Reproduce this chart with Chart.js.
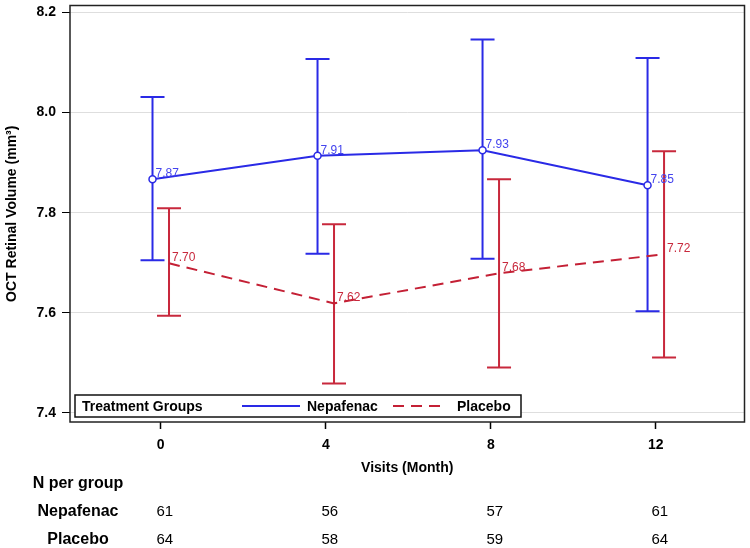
<!DOCTYPE html>
<html>
<head>
<meta charset="utf-8">
<script src="https://cdn.jsdelivr.net/npm/chart.js@4"></script>
<style>
  html, body { margin: 0; padding: 0; background: #fff; }
  #wrap { width: 750px; height: 548px; }
</style>
</head>
<body>
<div id="wrap"><canvas id="c" width="750" height="548"></canvas></div>
<script>
// data
const visits = [0, 4, 8, 12];
const nepMean  = [7.867, 7.914, 7.925, 7.855];
const nepLower = [7.705, 7.718, 7.708, 7.603];
const nepUpper = [8.031, 8.107, 8.146, 8.109];
const plaMean  = [7.699, 7.619, 7.679, 7.717];
const plaLower = [7.594, 7.459, 7.491, 7.511];
const plaUpper = [7.809, 7.777, 7.867, 7.923];
const nepLabels = ['7.87', '7.91', '7.93', '7.85'];
const plaLabels = ['7.70', '7.62', '7.68', '7.72'];
const nepN = [61, 56, 57, 61];
const plaN = [64, 58, 59, 64];
const yTicks = [7.4, 7.6, 7.8, 8.0, 8.2];
const xTicks = [0, 4, 8, 12];

const FONT = "'Liberation Sans', Arial, sans-serif";
const BLUE = '#2a2ae6';
const RED = '#c42035';
const nepOff = -0.2, plaOff = 0.2;

let toXY = (means, off) => visits.map((v, i) => ({ x: v + off, y: means[i] }));

// error bars, drawn with the chart's own scales
const errorBars = {
    id: 'errorBars',
    beforeDatasetsDraw(chart) {
        const ctx = chart.ctx, xs = chart.scales.x, ys = chart.scales.y;
        let groups = [
            { off: nepOff, lo: nepLower, hi: nepUpper, color: BLUE },
            { off: plaOff, lo: plaLower, hi: plaUpper, color: '#c8283c' }
        ];
        ctx.save();
        ctx.lineWidth = 2;
        for (let g of groups) {
            ctx.strokeStyle = g.color;
            visits.forEach((v, i) => {
                let px = xs.getPixelForValue(v + g.off);
                let y1 = ys.getPixelForValue(g.lo[i]);
                let y2 = ys.getPixelForValue(g.hi[i]);
                ctx.beginPath();
                ctx.moveTo(px, y1); ctx.lineTo(px, y2);
                ctx.moveTo(px - 12, y1); ctx.lineTo(px + 12, y1);
                ctx.moveTo(px - 12, y2); ctx.lineTo(px + 12, y2);
                ctx.stroke();
            });
        }
        ctx.restore();
    }
};

// point labels, frame, legend, x title and the N table
const extras = {
    id: 'extras',
    afterDatasetsDraw(chart) {
        const ctx = chart.ctx, xs = chart.scales.x, ys = chart.scales.y;
        const a = chart.chartArea;
        ctx.save();
        ctx.font = '12px ' + FONT;
        ctx.textAlign = 'left';
        ctx.textBaseline = 'alphabetic';
        visits.forEach((v, i) => {
            ctx.fillStyle = '#4444ee';
            ctx.fillText(nepLabels[i], xs.getPixelForValue(v + nepOff) + 3, ys.getPixelForValue(nepMean[i]) - 2);
            ctx.fillStyle = '#c8283c';
            ctx.fillText(plaLabels[i], xs.getPixelForValue(v + plaOff) + 3, ys.getPixelForValue(plaMean[i]) - 2);
        });

        // legend box
        let lx = a.left + 5, ly = a.bottom - 27, lw = 446, lh = 22;
        ctx.fillStyle = '#fff';
        ctx.fillRect(lx, ly, lw, lh);
        ctx.strokeStyle = '#111';
        ctx.lineWidth = 1.5;
        ctx.strokeRect(lx, ly, lw, lh);
        let cy = ly + lh / 2;
        ctx.font = 'bold 14px ' + FONT;
        ctx.fillStyle = '#000';
        ctx.textBaseline = 'middle';
        ctx.fillText('Treatment Groups', lx + 7, cy + 1);
        ctx.lineWidth = 2;
        ctx.strokeStyle = BLUE;
        ctx.beginPath(); ctx.moveTo(lx + 167, cy); ctx.lineTo(lx + 225, cy); ctx.stroke();
        ctx.fillText('Nepafenac', lx + 232, cy + 1);
        ctx.strokeStyle = RED;
        ctx.setLineDash([11, 7]);
        ctx.beginPath(); ctx.moveTo(lx + 318, cy); ctx.lineTo(lx + 372, cy); ctx.stroke();
        ctx.setLineDash([]);
        ctx.fillText('Placebo', lx + 382, cy + 1);

        // plot frame
        ctx.strokeStyle = '#222';
        ctx.lineWidth = 1.5;
        ctx.strokeRect(a.left, a.top, a.right - a.left, a.bottom - a.top);
        ctx.restore();
    },
    afterDraw(chart) {
        const ctx = chart.ctx, xs = chart.scales.x, a = chart.chartArea;
        ctx.save();
        ctx.fillStyle = '#000';
        ctx.textBaseline = 'middle';
        ctx.textAlign = 'center';
        ctx.font = 'bold 14px ' + FONT;
        ctx.fillText('Visits (Month)', (a.left + a.right) / 2, 468);
        ctx.font = 'bold 16px ' + FONT;
        ctx.fillText('N per group', 78, 484);
        ctx.fillText('Nepafenac', 78, 512);
        ctx.fillText('Placebo', 78, 540);
        ctx.font = '15px ' + FONT;
        visits.forEach((v, i) => {
            let px = xs.getPixelForValue(v);
            ctx.fillText(String(nepN[i]), px + 4, 512);
            ctx.fillText(String(plaN[i]), px + 4, 540);
        });
        ctx.restore();
    }
};

new Chart(document.getElementById('c'), {
    type: 'line',
    data: {
        datasets: [
            {
                label: 'Nepafenac',
                data: toXY(nepMean, nepOff),
                borderColor: BLUE,
                borderWidth: 2,
                pointRadius: 3.5,
                pointBorderWidth: 1.5,
                pointBackgroundColor: '#fff',
                pointBorderColor: BLUE,
                tension: 0
            },
            {
                label: 'Placebo',
                data: toXY(plaMean, plaOff),
                borderColor: RED,
                borderWidth: 2,
                borderDash: [11, 7],
                pointRadius: 0,
                tension: 0
            }
        ]
    },
    options: {
        responsive: false,
        animation: false,
        events: [],
        layout: { padding: { top: 0, right: 0, left: 0, bottom: 0 } },
        plugins: { legend: { display: false }, tooltip: { enabled: false } },
        scales: {
            x: {
                type: 'linear',
                min: -2.2,
                max: 14.15,
                afterBuildTicks: s => { s.ticks = xTicks.map(v => ({ value: v })); },
                afterFit: s => { s.height = 126; s.paddingLeft = 0; s.paddingRight = 0; },
                ticks: { color: '#000', padding: 8, font: { family: FONT, size: 14, weight: 'bold' } },
                grid: { drawOnChartArea: false, tickColor: '#000', tickLength: 7, tickWidth: 1.5 },
                border: { display: false }
            },
            y: {
                min: 7.382,
                max: 8.214,
                afterBuildTicks: s => { s.ticks = yTicks.map(v => ({ value: v })); },
                afterFit: s => { s.width = 70; s.paddingTop = 0; s.paddingBottom = 0; },
                ticks: {
                    color: '#000', padding: 6,
                    font: { family: FONT, size: 14, weight: 'bold' },
                    callback: v => Number(v).toFixed(1)
                },
                grid: { color: '#dedede', tickColor: '#000', tickLength: 8, lineWidth: 1 },
                border: { display: false },
                title: {
                    display: true,
                    text: 'OCT Retinal Volume (mm³)',
                    color: '#000',
                    font: { family: FONT, size: 14, weight: 'bold' }
                }
            }
        }
    },
    plugins: [errorBars, extras]
});
</script>
</body>
</html>
